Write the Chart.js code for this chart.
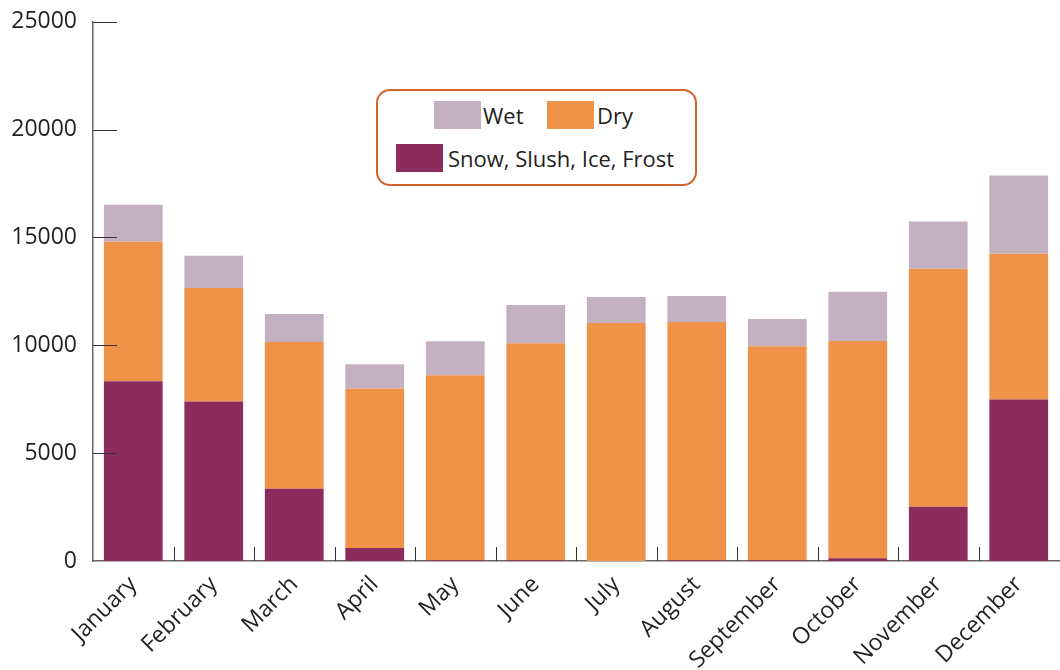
<!DOCTYPE html>
<html lang="en">
<head>
  <meta charset="UTF-8">
  <title>Crashes by road surface condition</title>
  <style>
    body {
      margin: 0;
      background: #fff;
      font-family: "Open Sans", sans-serif;
    }
    .wrap {
      position: relative;
      width: 1060px;
      height: 670px;
    }
    .legend {
      position: absolute;
      left: 376px;
      top: 89px;
      width: 317px;
      height: 93px;
      border: 2px solid #d2622e;
      border-radius: 14px;
      background: #fff;
      color: #231f20;
      font-size: 22px;
    }
    .legend .sw {
      position: absolute;
      width: 47px;
      height: 28px;
    }
    .legend .lbl {
      position: absolute;
      line-height: 28px;
    }
  </style>
  <script src="https://cdn.jsdelivr.net/npm/chart.js"></script>
</head>
<body>
  <div class="wrap">
    <canvas id="chart"></canvas>
    <div class="legend">
      <div class="sw" style="left:56px;top:10px;background:#c3b0c0"></div>
      <div class="lbl" style="left:105px;top:10px">Wet</div>
      <div class="sw" style="left:169px;top:10px;background:#ef9349"></div>
      <div class="lbl" style="left:219px;top:10px">Dry</div>
      <div class="sw" style="left:18px;top:53px;background:#8b2c5c"></div>
      <div class="lbl" style="left:70px;top:53px">Snow, Slush, Ice, Frost</div>
    </div>
  </div>

  <script>
    const months = ['January', 'February', 'March', 'April', 'May', 'June',
      'July', 'August', 'September', 'October', 'November', 'December'];
    const snow = [8330, 7400, 3350, 600, 40, 40, 0, 40, 40, 130, 2510, 7490];
    const dry = [6470, 5260, 6800, 7400, 8570, 10060, 11030, 11040, 9920, 10070, 11040, 6750];
    const wet = [1720, 1490, 1300, 1120, 1580, 1770, 1210, 1210, 1260, 2280, 2190, 3630];
    const yTicks = [0, 5000, 10000, 15000, 20000, 25000];

    // short tick marks drawn inside the plot, like the original
    const innerTicks = {
      id: 'innerTicks',
      afterDraw(chart) {
        const ctx = chart.ctx;
        const x = chart.scales.x;
        const y = chart.scales.y;
        ctx.save();
        ctx.strokeStyle = '#333';
        ctx.lineWidth = 1;
        yTicks.forEach(v => {
          if (v === 0) return;
          const py = Math.round(y.getPixelForValue(v)) + 0.5;
          ctx.beginPath();
          ctx.moveTo(y.right, py);
          ctx.lineTo(y.right + 24, py);
          ctx.stroke();
        });
        for (let i = 0; i < months.length - 1; i++) {
          const px = Math.round((x.getPixelForTick(i) + x.getPixelForTick(i + 1)) / 2) + 0.5;
          ctx.beginPath();
          ctx.moveTo(px, x.top);
          ctx.lineTo(px, x.top - 14);
          ctx.stroke();
        }
        ctx.restore();
      }
    };

    new Chart(document.getElementById('chart'), {
      type: 'bar',
      data: {
        labels: months,
        datasets: [
          { label: 'Snow, Slush, Ice, Frost', data: snow, backgroundColor: '#8b2c5c' },
          { label: 'Dry', data: dry, backgroundColor: '#ef9349' },
          { label: 'Wet', data: wet, backgroundColor: '#c3b0c0' }
        ]
      },
      options: {
        responsive: true,
        maintainAspectRatio: false,
        animation: false,
        categoryPercentage: 0.73,
        barPercentage: 1,
        layout: { padding: { top: 18, right: 1 } },
        plugins: {
          legend: { display: false },
          tooltip: { enabled: false }
        },
        scales: {
          x: {
            stacked: true,
            grid: { display: false },
            border: { color: '#666', width: 1.5 },
            ticks: {
              color: '#231f20',
              font: { family: 'Open Sans', size: 23 },
              minRotation: 45,
              maxRotation: 45,
              padding: 2
            },
            afterFit(scale) { scale.height = 109; }
          },
          y: {
            stacked: true,
            min: 0,
            max: 25000,
            grid: { display: false },
            border: { color: '#666', width: 1.5 },
            ticks: {
              stepSize: 5000,
              color: '#231f20',
              font: { family: 'Open Sans', size: 23 },
              padding: 8,
              callback: v => String(v)
            },
            afterFit(scale) { scale.width = 93; }
          }
        }
      },
      plugins: [innerTicks]
    });
  </script>
</body>
</html>
